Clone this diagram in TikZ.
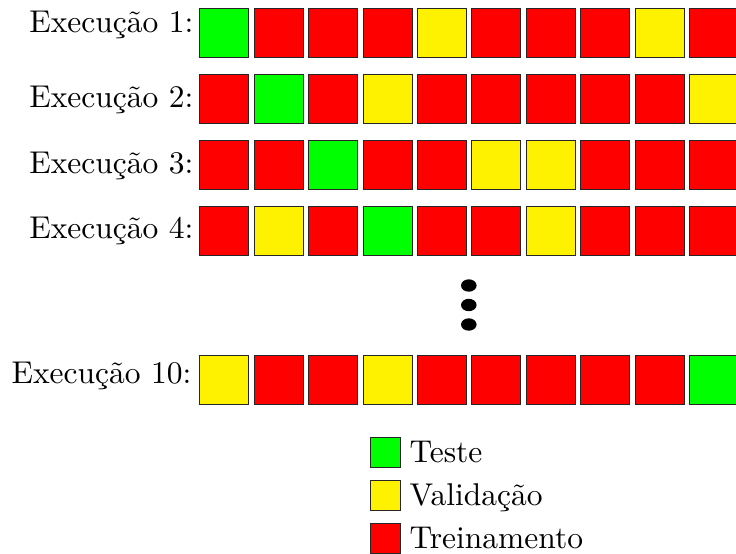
\documentclass[tikz,border=0pt]{standalone}
\begin{document}
\begin{tikzpicture}[x=1pt,y=-1pt,
  cell/.style={draw=black!85, line width=0.8pt, minimum size=49pt, inner sep=0pt, anchor=north west},
  tst/.style={cell, fill=green},
  val/.style={cell, fill=yellow},
  trn/.style={cell, fill=red},
  key/.style={draw=black!85, line width=0.8pt, minimum size=29.5pt, inner sep=0pt, anchor=north west},
  bigtext/.style={inner sep=0pt, font=\fontsize{10}{12}\selectfont, scale=3.15},
  lbl/.style={bigtext, anchor=base east},
  keytext/.style={bigtext, anchor=base west}]
\useasboundingbox (0,0) rectangle (736,554);

% one row per run: index / top edge / label baseline / label right edge / label / folds
\foreach \row/\top/\base/\lx/\lab/\pat in {
  1/8/32/194/{Execução 1:}/{tst,trn,trn,trn,val,trn,trn,trn,val,trn},
  2/74/107/194/{Execução 2:}/{trn,tst,trn,val,trn,trn,trn,trn,trn,val},
  3/140/173/194/{Execução 3:}/{trn,trn,tst,trn,trn,val,val,trn,trn,trn},
  4/206/238/194/{Execução 4:}/{trn,val,trn,tst,trn,trn,val,trn,trn,trn},
  10/355/383/192/{Execução 10:}/{val,trn,trn,val,trn,trn,trn,trn,trn,tst}} {
  \node[lbl] (lab\row) at (\lx,\base) {\lab};
  \foreach \s [count=\c] in \pat {
    \node[\s] (r\row-\c) at ({199.4+(\c-1)*54.4},\top+0.4) {};
  }
}

% vertical ellipsis between run 4 and run 10
\foreach \yy in {285.5,305,324.5}
  \fill (468.8,\yy) ellipse [x radius=7.8pt, y radius=6.2pt];

% legend
\node[key, fill=green]  (kt) at (370.4,437.4) {};
\node[key, fill=yellow] (kv) at (370.4,480.4) {};
\node[key, fill=red]    (kr) at (370.4,523.4) {};
\node[keytext] (tt) at (409,462) {Teste};
\node[keytext] (tv) at (409,505) {Validação};
\node[keytext] (tr) at (409,548) {Treinamento};
\end{tikzpicture}
\end{document}
